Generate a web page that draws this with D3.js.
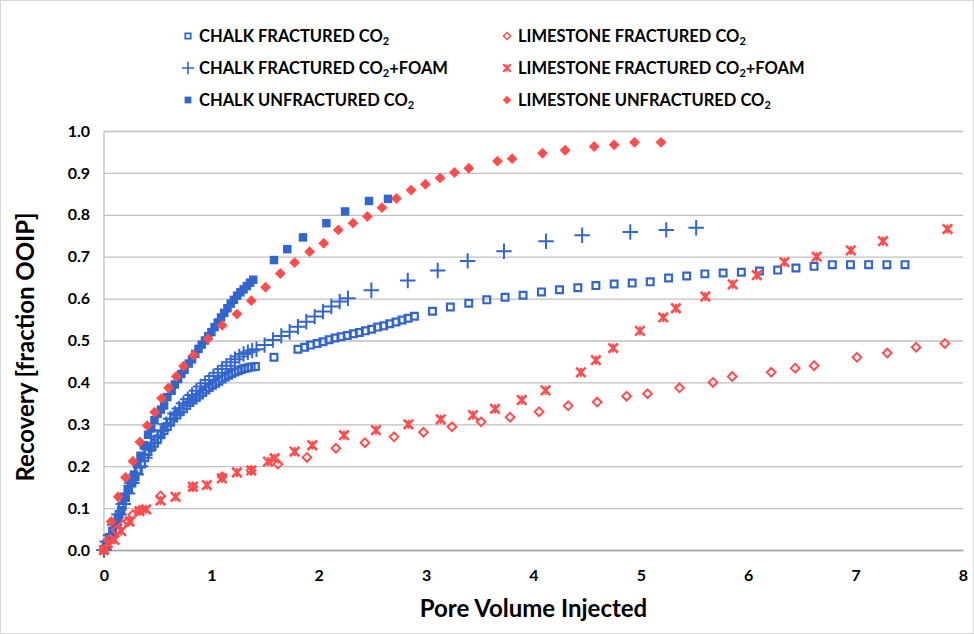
<!DOCTYPE html>
<html lang="en">
<head>
<meta charset="utf-8">
<title>Recovery vs Pore Volume Injected</title>
<script src="https://cdn.jsdelivr.net/npm/d3@7"></script>
<style>
  body { margin: 0; background: #fff; }
  #chart text { font-family: Lato, "Open Sans", sans-serif; font-weight: bold; fill: #000; }
</style>
</head>
<body>
<div id="chart"></div>
<script>
"use strict";
// data: [pore volume, recovery]
var chalkFracCO2 = [[0,0],[0.02,0.01],[0.05,0.03],[0.08,0.045],[0.11,0.065],[0.14,0.085],[0.17,0.105],[0.2,0.125],[0.23,0.145],[0.26,0.16],[0.29,0.175],[0.32,0.19],[0.35,0.205],[0.38,0.22],[0.41,0.235],[0.44,0.245],[0.47,0.255],[0.5,0.265],[0.53,0.275],[0.56,0.285],[0.59,0.295],[0.62,0.305],[0.65,0.315],[0.68,0.322],[0.71,0.33],[0.74,0.337],[0.77,0.345],[0.8,0.352],[0.83,0.358],[0.86,0.364],[0.89,0.37],[0.92,0.376],[0.95,0.382],[0.98,0.388],[1.01,0.393],[1.04,0.398],[1.07,0.403],[1.1,0.408],[1.13,0.413],[1.16,0.417],[1.19,0.421],[1.22,0.425],[1.25,0.428],[1.28,0.431],[1.31,0.433],[1.34,0.435],[1.37,0.437],[1.41,0.438],[1.583,0.46],[1.806,0.479],[1.869,0.484],[1.924,0.489],[1.984,0.493],[2.04,0.497],[2.096,0.502],[2.151,0.506],[2.207,0.509],[2.266,0.512],[2.322,0.516],[2.378,0.519],[2.434,0.523],[2.493,0.527],[2.549,0.532],[2.605,0.535],[2.661,0.54],[2.72,0.544],[2.776,0.549],[2.832,0.553],[2.891,0.558],[3.059,0.57],[3.226,0.58],[3.397,0.589],[3.565,0.597],[3.735,0.603],[3.903,0.608],[4.074,0.616],[4.242,0.621],[4.413,0.626],[4.581,0.631],[4.751,0.635],[4.919,0.637],[5.087,0.64],[5.258,0.649],[5.427,0.654],[5.596,0.659],[5.766,0.661],[5.936,0.663],[6.104,0.666],[6.274,0.668],[6.444,0.673],[6.613,0.677],[6.783,0.681],[6.952,0.681],[7.121,0.681],[7.291,0.681],[7.46,0.681]];
var chalkFracFoam = [[0,0],[0.03,0.02],[0.06,0.035],[0.1,0.06],[0.14,0.085],[0.18,0.11],[0.22,0.135],[0.26,0.16],[0.3,0.18],[0.34,0.2],[0.38,0.22],[0.42,0.24],[0.46,0.255],[0.5,0.27],[0.54,0.285],[0.58,0.3],[0.62,0.313],[0.66,0.326],[0.7,0.338],[0.74,0.35],[0.78,0.36],[0.82,0.37],[0.86,0.38],[0.9,0.39],[0.94,0.398],[0.98,0.406],[1.02,0.415],[1.06,0.423],[1.1,0.432],[1.14,0.44],[1.18,0.448],[1.22,0.455],[1.26,0.462],[1.3,0.468],[1.34,0.472],[1.38,0.476],[1.42,0.479],[1.496,0.489],[1.573,0.501],[1.651,0.511],[1.729,0.521],[1.806,0.533],[1.884,0.545],[1.962,0.557],[2.039,0.569],[2.117,0.581],[2.195,0.593],[2.272,0.601],[2.49,0.62],[2.829,0.643],[3.108,0.667],[3.387,0.69],[3.725,0.713],[4.117,0.737],[4.453,0.751],[4.901,0.759],[5.236,0.764],[5.515,0.769]];
var chalkUnfracCO2 = [[0,0],[0.02,0.012],[0.05,0.025],[0.08,0.04],[0.1,0.06],[0.13,0.075],[0.16,0.095],[0.19,0.125],[0.22,0.145],[0.25,0.16],[0.28,0.18],[0.31,0.205],[0.34,0.225],[0.37,0.25],[0.41,0.275],[0.44,0.29],[0.47,0.31],[0.5,0.325],[0.53,0.335],[0.56,0.345],[0.59,0.365],[0.63,0.38],[0.66,0.395],[0.69,0.408],[0.72,0.42],[0.75,0.43],[0.79,0.445],[0.82,0.455],[0.85,0.468],[0.88,0.48],[0.91,0.49],[0.94,0.5],[0.97,0.51],[1.0,0.52],[1.03,0.532],[1.06,0.543],[1.09,0.555],[1.12,0.566],[1.15,0.577],[1.18,0.588],[1.21,0.597],[1.24,0.607],[1.27,0.615],[1.3,0.622],[1.33,0.63],[1.36,0.638],[1.39,0.645],[1.583,0.692],[1.707,0.718],[1.853,0.746],[2.071,0.78],[2.245,0.808],[2.468,0.833],[2.645,0.838]];
var limeFracCO2 = [[0,0],[0.05,0.025],[0.113,0.048],[0.175,0.06],[0.222,0.068],[0.268,0.084],[0.331,0.095],[0.527,0.129],[0.828,0.151],[1.101,0.175],[1.37,0.19],[1.62,0.205],[1.89,0.221],[2.16,0.243],[2.43,0.256],[2.701,0.27],[2.975,0.281],[3.241,0.294],[3.512,0.306],[3.782,0.317],[4.052,0.33],[4.323,0.344],[4.593,0.353],[4.867,0.367],[5.062,0.373],[5.36,0.387],[5.671,0.4],[5.851,0.414],[6.214,0.424],[6.437,0.434],[6.613,0.44],[7.012,0.46],[7.294,0.47],[7.563,0.484],[7.831,0.493]];
var limeFracFoam = [[0,0],[0.035,0.016],[0.098,0.024],[0.16,0.045],[0.238,0.068],[0.331,0.093],[0.393,0.097],[0.527,0.118],[0.666,0.127],[0.828,0.151],[0.958,0.155],[1.098,0.171],[1.238,0.185],[1.372,0.19],[1.527,0.211],[1.589,0.219],[1.775,0.235],[1.94,0.25],[2.235,0.274],[2.533,0.286],[2.835,0.3],[3.136,0.312],[3.437,0.322],[3.642,0.337],[3.891,0.358],[4.112,0.381],[4.441,0.424],[4.581,0.453],[4.742,0.482],[4.991,0.523],[5.208,0.555],[5.326,0.577],[5.6,0.605],[5.855,0.634],[6.08,0.656],[6.337,0.687],[6.637,0.7],[6.955,0.715],[7.255,0.737],[7.856,0.766]];
var limeUnfracCO2 = [[0,0],[0.067,0.068],[0.132,0.127],[0.2,0.173],[0.269,0.212],[0.334,0.258],[0.402,0.297],[0.471,0.329],[0.536,0.362],[0.601,0.387],[0.673,0.414],[0.741,0.439],[0.834,0.465],[0.968,0.504],[1.101,0.536],[1.238,0.563],[1.372,0.595],[1.505,0.627],[1.642,0.66],[1.775,0.686],[1.915,0.712],[2.046,0.732],[2.182,0.764],[2.319,0.78],[2.453,0.796],[2.589,0.817],[2.723,0.839],[2.86,0.859],[2.993,0.873],[3.13,0.888],[3.264,0.901],[3.397,0.911],[3.664,0.928],[3.801,0.934],[4.084,0.947],[4.295,0.954],[4.565,0.963],[4.751,0.967],[4.941,0.973],[5.187,0.973]];

var xTicks = [0,1,2,3,4,5,6,7,8];
var yTicks = [0,0.1,0.2,0.3,0.4,0.5,0.6,0.7,0.8,0.9,1.0];
var xLabel = "Pore Volume Injected";
var yLabel = "Recovery [fraction OOIP]";

var azul = "#3366CC", vermelho = "#FF4D4D";
// series: name (before subscript), suffix after subscript, data, marker
var series = [
  {nome: "CHALK FRACTURED CO", resto: "", dados: chalkFracCO2, tipo: "sqOpen", cor: azul},
  {nome: "CHALK FRACTURED CO", resto: "+FOAM", dados: chalkFracFoam, tipo: "plus", cor: azul},
  {nome: "CHALK UNFRACTURED CO", resto: "", dados: chalkUnfracCO2, tipo: "sqFill", cor: azul},
  {nome: "LIMESTONE FRACTURED CO", resto: "", dados: limeFracCO2, tipo: "diaOpen", cor: vermelho},
  {nome: "LIMESTONE FRACTURED CO", resto: "+FOAM", dados: limeFracFoam, tipo: "times", cor: vermelho},
  {nome: "LIMESTONE UNFRACTURED CO", resto: "", dados: limeUnfracCO2, tipo: "diaFill", cor: vermelho}
];

var larguraSVG = 974, alturaSVG = 634;
var margin = {top: 131, right: 11, bottom: 84, left: 104};
var larguraVis = larguraSVG - margin.left - margin.right,
    alturaVis = alturaSVG - margin.top - margin.bottom;

var svg = d3.select("#chart").append("svg")
  .attr("width", larguraSVG).attr("height", alturaSVG);
svg.append("rect").attr("x", 0.5).attr("y", 0.5)
  .attr("width", larguraSVG - 1).attr("height", alturaSVG - 1)
  .attr("fill", "#fff").attr("stroke", "#D9D9D9");

var grafico = svg.append("g")
  .attr("transform", "translate(" + margin.left + "," + margin.top + ")");

var x = d3.scaleLinear().domain([0, 8]).range([0, larguraVis]);
var y = d3.scaleLinear().domain([0, 1]).range([alturaVis, 0]);

// grid + y axis
var eixoY = grafico.append("g")
  .call(d3.axisLeft(y).tickValues(yTicks).tickSize(-larguraVis).tickPadding(14).tickFormat(d3.format(".1f")));
eixoY.select(".domain").remove();
eixoY.selectAll("line").attr("stroke", "#BFBFBF").attr("stroke-width", 1.3);
eixoY.selectAll("text").style("font-size", "16px");

grafico.append("line").attr("x1", 0).attr("x2", 0).attr("y1", 0).attr("y2", alturaVis)
  .attr("stroke", "#BFBFBF").attr("stroke-width", 1.3);

var eixoX = grafico.append("g")
  .attr("transform", "translate(0," + alturaVis + ")")
  .call(d3.axisBottom(x).tickValues(xTicks).tickSize(0).tickPadding(20).tickFormat(d3.format("d")));
eixoX.select(".domain").attr("stroke", "#A6A6A6").attr("stroke-width", 1.3);
eixoX.selectAll("text").style("font-size", "16px");

// markers
function desenhaMarca(sel, tipo, cor) {
  if (tipo === "sqFill") {
    sel.append("path").attr("d", d3.symbol(d3.symbolSquare, 72)()).attr("fill", cor);
  } else if (tipo === "sqOpen") {
    sel.append("path").attr("d", d3.symbol(d3.symbolSquare, 46)()).attr("fill", "none")
      .attr("stroke", cor).attr("stroke-width", 2.2);
  } else if (tipo === "plus") {
    sel.append("path").attr("d", d3.symbol(d3.symbolPlus, 80)()).attr("fill", "none")
      .attr("stroke", cor).attr("stroke-width", 2);
  } else if (tipo === "diaFill") {
    sel.append("path").attr("d", d3.symbol(d3.symbolDiamond2, 75)()).attr("fill", cor);
  } else if (tipo === "diaOpen") {
    sel.append("path").attr("d", d3.symbol(d3.symbolDiamond2, 48)()).attr("fill", "none")
      .attr("stroke", cor).attr("stroke-width", 2);
  } else if (tipo === "times") {
    sel.append("path").attr("d", d3.symbol(d3.symbolTimes, 60)()).attr("fill", "none")
      .attr("stroke", cor).attr("stroke-width", 2.6);
    sel.append("path").attr("d", "M0,-4.5V4.5").attr("stroke", cor).attr("stroke-width", 2);
  }
}

series.forEach(function(s) {
  grafico.append("g").selectAll("g")
    .data(s.dados)
    .enter().append("g")
      .attr("transform", function(d) { return "translate(" + x(d[0]) + "," + y(d[1]) + ")"; })
      .each(function() { desenhaMarca(d3.select(this), s.tipo, s.cor); });
});

// axis titles
svg.append("text")
  .attr("x", margin.left + larguraVis / 2).attr("y", 617)
  .attr("text-anchor", "middle").style("font-size", "24px")
  .text(xLabel);
svg.append("text")
  .attr("transform", "translate(34,347) rotate(-90)")
  .attr("text-anchor", "middle").style("font-size", "24px")
  .text(yLabel);

// legend
var legenda = svg.append("g");
series.forEach(function(s, i) {
  var col = Math.floor(i / 3), lin = i % 3;
  var item = legenda.append("g")
    .attr("transform", "translate(" + (col === 0 ? 188 : 507) + "," + (36 + lin * 32) + ")");
  desenhaMarca(item.append("g").attr("transform", "scale(0.8)"), s.tipo, s.cor);
  var t = item.append("text").attr("x", 11).attr("y", 6).style("font-size", "16.5px");
  t.append("tspan").text(s.nome);
  t.append("tspan").attr("dy", 3).style("font-size", "11px").text("2");
  if (s.resto) t.append("tspan").attr("dy", -3).text(s.resto);
});
</script>
</body>
</html>
